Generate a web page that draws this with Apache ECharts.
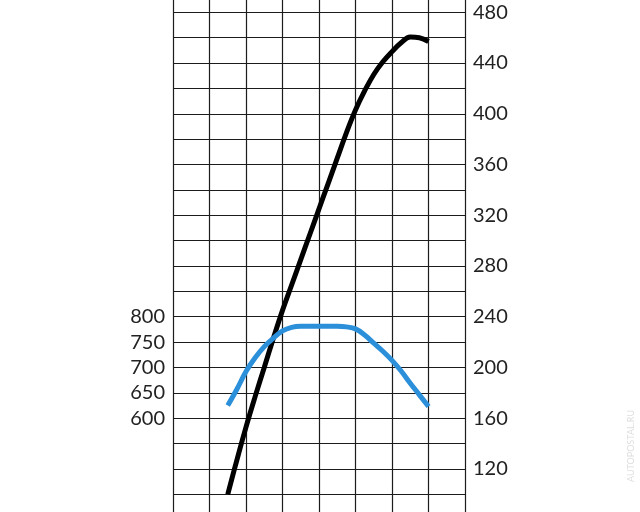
<!DOCTYPE html>
<html>
<head>
<meta charset="utf-8">
<script src="https://cdn.jsdelivr.net/npm/echarts@6/dist/echarts.min.js"></script>
<style>
  html, body { margin: 0; padding: 0; background: #fff; }
  #main { width: 640px; height: 512px; }
</style>
</head>
<body>
<div id="main"></div>
<script>
// engine speed, rpm
var rpm = [1500, 1750, 2000, 2250, 2500, 2750, 3000, 3250, 3500, 3750, 4000, 4250,
           4500, 4750, 5000, 5250, 5500, 5750, 6000, 6250, 6500, 6750, 7000];
// power (right axis)
var power = [100, 127, 153, 177, 200, 223, 245, 265, 285, 305, 325, 345,
             365, 385, 403, 418, 431, 441, 449, 456, 460.5, 460, 457];
// torque (left axis)
var torque = [625, 657, 692, 719, 741, 758, 772, 779, 781, 781, 781, 781,
              781, 780, 776, 764, 748, 732, 714, 693, 669, 646, 623];
// labels that are printed on each axis
var leftLabels = [600, 650, 700, 750, 800];
var rightLabels = [120, 160, 200, 240, 280, 320, 360, 400, 440, 480];

function pairs(xs, ys) {
    return xs.map(function (x, i) { return [x, ys[i]]; });
}

var font = 'Lato, "DejaVu Sans", sans-serif';
var lineColor = '#1c1c1c';

var myChart = echarts.init(document.getElementById('main'));
myChart.setOption({
    animation: false,
    backgroundColor: '#fff',
    grid: [
        { left: 173, right: 175, top: 12.3, bottom: 17.7 },
        // full height grid, only used for the vertical lines
        { left: 173, right: 175, top: 0, bottom: 0 }
    ],
    xAxis: [
        {
            gridIndex: 0, type: 'value', min: 0, max: 8000, interval: 1000,
            axisLine: { show: false }, axisTick: { show: false },
            axisLabel: { show: false }, splitLine: { show: false }
        },
        {
            gridIndex: 1, type: 'value', min: 0, max: 8000, interval: 1000,
            axisLine: { show: false }, axisTick: { show: false },
            axisLabel: { show: false },
            splitLine: { show: true, lineStyle: { color: lineColor, width: 1.2 } }
        }
    ],
    yAxis: [
        {
            gridIndex: 0, type: 'value', position: 'left',
            min: 450, max: 1400, interval: 50,
            axisLine: { show: false }, axisTick: { show: false },
            splitLine: { show: false },
            axisLabel: {
                margin: 8, fontSize: 20, color: '#222', fontFamily: font,
                formatter: function (v) { return leftLabels.indexOf(v) >= 0 ? String(v) : ''; }
            }
        },
        {
            gridIndex: 0, type: 'value', position: 'right',
            min: 100, max: 480, interval: 20,
            axisLine: { show: false }, axisTick: { show: false },
            splitLine: { show: true, lineStyle: { color: lineColor, width: 1.2 } },
            axisLabel: {
                margin: 8, fontSize: 20, color: '#222', fontFamily: font,
                formatter: function (v) { return rightLabels.indexOf(v) >= 0 ? String(v) : ''; }
            }
        },
        {
            gridIndex: 1, type: 'value', min: 0, max: 1, show: false
        }
    ],
    series: [
        {
            name: 'power', type: 'line', xAxisIndex: 0, yAxisIndex: 1,
            data: pairs(rpm, power), smooth: 0.4, symbol: 'none',
            lineStyle: { color: '#000', width: 5 }, z: 3
        },
        {
            name: 'torque', type: 'line', xAxisIndex: 0, yAxisIndex: 0,
            data: pairs(rpm, torque), smooth: 0.4, symbol: 'none',
            lineStyle: { color: '#2b8fd9', width: 5 }, z: 4
        }
    ],
    graphic: [
        {
            type: 'text', right: 4, top: 410, rotation: Math.PI / 2,
            style: { text: 'AUTOPOSTAL.RU', fill: '#dedede', fontSize: 9, fontFamily: font }
        }
    ]
});
</script>
</body>
</html>
